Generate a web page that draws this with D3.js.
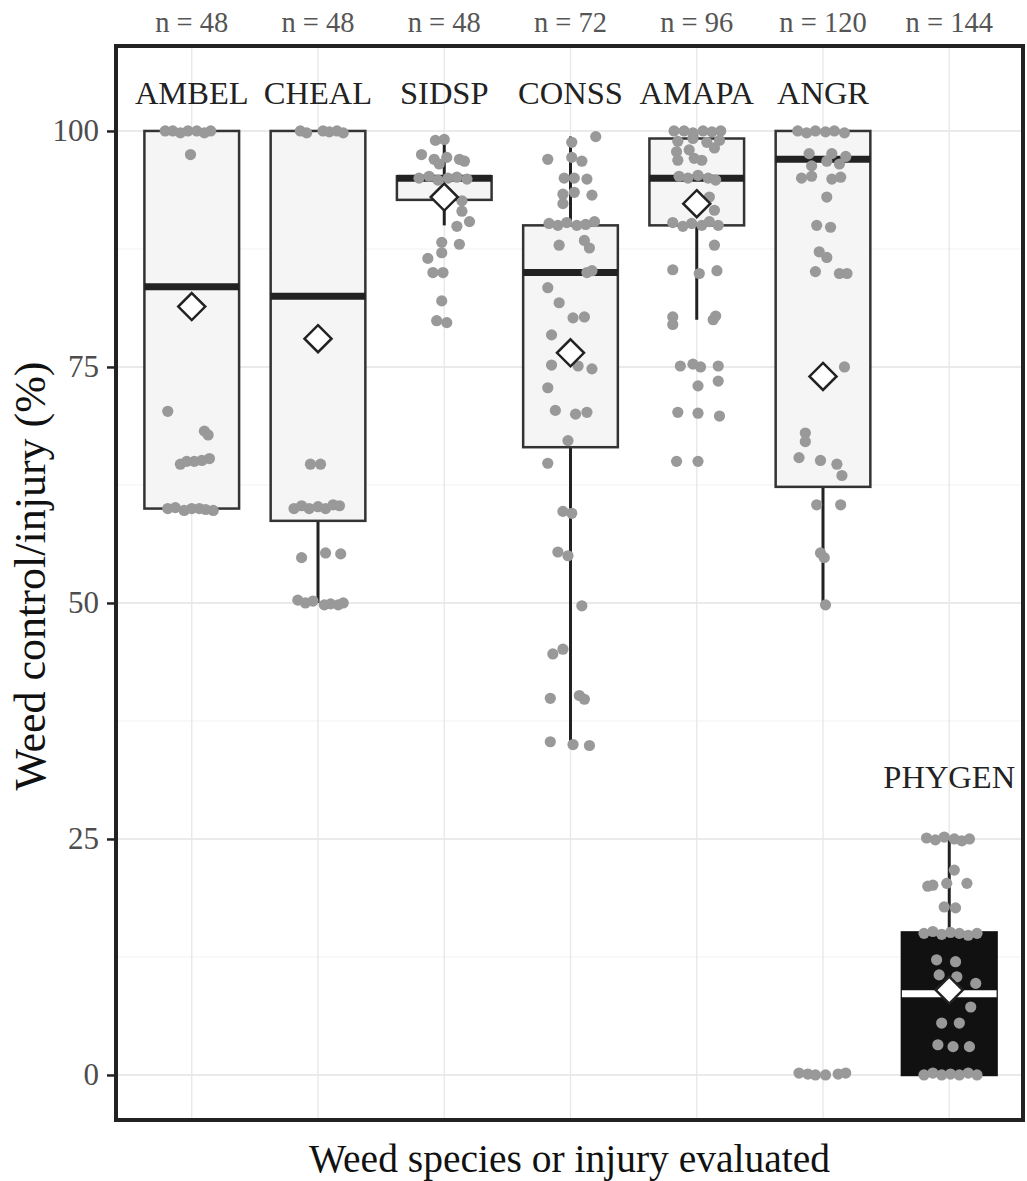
<!DOCTYPE html>
<html>
<head>
<meta charset="utf-8">
<script src="https://cdn.jsdelivr.net/npm/d3@7"></script>
<style>
  body { margin: 0; background: #fff; }
  text { font-family: 'Liberation Serif', 'Times New Roman', serif; }
</style>
</head>
<body>
<svg id="canvas" width="1027" height="1181"></svg>
<script>
// weed species / injury categories and summary stats
let categories = ['AMBEL', 'CHEAL', 'SIDSP', 'CONSS', 'AMAPA', 'ANGR', 'PHYGEN'];
let sampleSizes = [48, 48, 48, 72, 96, 120, 144];
let q1Values = [60, 58.7, 92.7, 66.5, 90, 62.3, 0];
let medianValues = [83.5, 82.5, 95, 85, 95, 97, 8.6];
let q3Values = [100, 100, 95.2, 90, 99.2, 100, 15.1];
let whiskerLow = [60, 50, 90, 35.2, 80, 49.8, 0];
let whiskerHigh = [100, 100, 99, 99.4, 100, 100, 25];
let meanValues = [81.4, 78.0, 93.0, 76.5, 92.3, 74.0, 9.0];
let labelValues = [104.1, 104.1, 104.1, 104.1, 104.1, 104.1, 31.6];
let yTicks = [0, 25, 50, 75, 100];
let yMinorTicks = [12.5, 37.5, 62.5, 87.5];

// jittered observations: [offset in category units, value]
let pointsAMBEL = [
	[-0.21, 100], [-0.15, 100], [-0.09, 99.8], [-0.03, 100], [0.04, 100], [0.1, 99.8], [0.15, 100],
	[-0.01, 97.5], [-0.19, 70.3], [0.1, 68.2], [0.13, 67.8],
	[-0.09, 64.7], [-0.04, 65], [0.02, 65], [0.08, 65.1], [0.14, 65.3],
	[-0.19, 60], [-0.13, 60.1], [-0.06, 59.8], [0, 60], [0.06, 60], [0.11, 59.9], [0.17, 59.8]
];
let pointsCHEAL = [
	[-0.14, 100], [-0.09, 99.8], [0.04, 100], [0.09, 99.9], [0.15, 100], [0.2, 99.8],
	[-0.06, 64.7], [0.02, 64.7],
	[-0.19, 60], [-0.13, 60.3], [-0.07, 60], [0, 60.2], [0.06, 60], [0.12, 60.4], [0.17, 60.3],
	[-0.13, 54.8], [0.06, 55.3], [0.18, 55.2],
	[-0.16, 50.3], [-0.1, 50], [-0.04, 50.2], [0.05, 49.8], [0.1, 49.9], [0.16, 49.8], [0.2, 50]
];
let pointsSIDSP = [
	[-0.07, 99], [0, 99.1], [-0.18, 97.5], [-0.08, 97], [0.02, 97.2], [0.12, 97], [0.16, 96.8],
	[-0.04, 96.5], [-0.2, 95], [-0.12, 95.2], [-0.05, 94.8], [0.03, 95], [0.1, 95.1], [0.18, 94.9],
	[0.14, 92.6], [0.14, 91.5], [0.2, 90.4], [0.1, 89.9], [-0.02, 88.2], [0.12, 88],
	[-0.02, 87.1], [-0.13, 86.5], [-0.09, 85], [-0.01, 85], [-0.02, 82], [-0.06, 79.9], [0.02, 79.7]
];
let pointsCONSS = [
	[0.2, 99.4], [0.01, 98.8], [-0.18, 97], [0.01, 97.2], [0.09, 96.8],
	[-0.05, 95], [0.03, 95], [0.13, 94.9], [-0.06, 93.3], [0.03, 93.5], [0.17, 93.2], [-0.06, 92.3],
	[-0.17, 90.2], [-0.1, 90], [-0.03, 90.3], [0.05, 90], [0.12, 90.1], [0.19, 90.4],
	[-0.09, 87.9], [0.11, 88.4], [0.15, 87.6], [0.13, 85], [0.17, 85.2], [-0.18, 83.4], [-0.09, 81.8],
	[0.02, 80.2], [0.11, 80.3], [-0.15, 78.4], [-0.15, 75.2], [0.06, 75.1], [0.17, 74.8],
	[-0.18, 72.8], [-0.12, 70.4], [0.04, 70], [0.13, 70.2], [-0.02, 67.2], [-0.18, 64.8],
	[-0.06, 59.7], [0.01, 59.5], [-0.1, 55.4], [-0.02, 55], [0.09, 49.7], [-0.14, 44.6], [-0.06, 45.1],
	[-0.16, 39.9], [0.07, 40.2], [0.11, 39.8], [-0.16, 35.3], [0.02, 35], [0.15, 34.9]
];
let pointsAMAPA = [
	[-0.18, 100], [-0.1, 100], [-0.03, 99.8], [0.05, 100], [0.12, 99.9], [0.19, 100],
	[-0.15, 98.9], [-0.03, 99.2], [0.08, 98.8], [0.18, 99], [-0.16, 97.8], [-0.06, 98], [0.14, 98.2],
	[-0.15, 96.9], [-0.02, 97.1], [0.04, 96.9],
	[-0.14, 95.2], [-0.07, 95], [0.01, 95.3], [0.09, 95], [0.15, 94.8], [0.1, 93], [0.14, 91.6],
	[-0.19, 90.3], [-0.11, 89.9], [-0.04, 90.2], [0.04, 90], [0.1, 90.4], [0.17, 90],
	[0.14, 87.9], [-0.19, 85.3], [0.02, 84.9], [0.16, 85.2],
	[-0.19, 80.3], [-0.19, 79.5], [0.13, 80], [0.15, 80.4],
	[-0.13, 75.1], [-0.03, 75.3], [0.03, 75], [0.17, 75.1], [0.01, 73], [0.17, 73.5],
	[-0.15, 70.2], [0.01, 70.1], [0.18, 69.8], [-0.16, 65], [0.01, 65]
];
let pointsANGR = [
	[-0.2, 100], [-0.13, 99.8], [-0.06, 100], [0.02, 99.9], [0.09, 100], [0.17, 99.8],
	[-0.11, 97.6], [0.07, 97.6], [0.18, 97.3], [0.13, 96.5], [-0.09, 96.3], [0.03, 96.8],
	[-0.17, 95], [-0.09, 95.2], [0.07, 94.9], [0.14, 95.1], [0.03, 93],
	[-0.05, 90], [0.06, 89.8], [-0.03, 87.2], [0.03, 86.6], [-0.06, 85.1], [0.13, 84.9], [0.19, 84.9],
	[0.17, 75], [-0.14, 68], [-0.14, 67.1], [-0.19, 65.4], [-0.02, 65.1], [0.11, 64.7], [0.15, 63.5],
	[-0.05, 60.4], [0.14, 60.4], [-0.02, 55.3], [0.01, 54.8], [0.02, 49.8],
	[-0.19, 0.2], [-0.12, 0.1], [-0.06, 0], [0.02, 0], [0.12, 0.1], [0.18, 0.2]
];
let pointsPHYGEN = [
	[-0.18, 25.1], [-0.11, 24.9], [-0.04, 25.2], [0.04, 25], [0.1, 24.8], [0.16, 25],
	[0.04, 21.7], [-0.17, 20], [-0.13, 20.1], [-0.02, 20.3], [0.14, 20.3], [-0.04, 17.8], [0.05, 17.7],
	[-0.2, 15], [-0.13, 15.2], [-0.06, 14.9], [0.01, 15.1], [0.08, 15], [0.15, 14.8], [0.22, 15],
	[-0.1, 12.2], [0.05, 12], [-0.08, 10.6], [0.06, 10.4], [0.21, 9.7], [0.17, 7.2],
	[-0.06, 5.5], [0.08, 5.5], [-0.09, 3.2], [0.03, 3], [0.16, 3],
	[-0.2, 0], [-0.13, 0.2], [-0.06, 0], [0.01, 0.1], [0.08, 0], [0.15, 0.2], [0.22, 0]
];
let pointSets = [pointsAMBEL, pointsCHEAL, pointsSIDSP, pointsCONSS, pointsAMAPA, pointsANGR, pointsPHYGEN];

let canvas = d3.select('#canvas');

let panel = { left: 116, right: 1023, top: 46, bottom: 1120 };

// category centres are a little wider apart than the plain 0.6 padding gives
let xScale = d3.scalePoint().domain(categories).range([panel.left, panel.right + 2]).padding(0.6);
let yScale = d3.scaleLinear().domain([-4.77, 109.0]).range([panel.bottom, panel.top]);
let step = xScale.step();
let boxWidth = step * 0.75;

let stats = categories.map((cat, i) => {
	return {
		cat: cat, n: sampleSizes[i], q1: q1Values[i], med: medianValues[i], q3: q3Values[i],
		lo: whiskerLow[i], hi: whiskerHigh[i], mean: meanValues[i], labelY: labelValues[i],
		dark: cat === 'PHYGEN'
	};
});

// grid
let grid = canvas.append('g');
grid.selectAll('.minor').data(yMinorTicks).enter().append('line')
	.attr('x1', panel.left).attr('x2', panel.right)
	.attr('y1', (d) => yScale(d)).attr('y2', (d) => yScale(d))
	.attr('stroke', '#f2f2f2').attr('stroke-width', 1);
grid.selectAll('.major').data(yTicks).enter().append('line')
	.attr('x1', panel.left).attr('x2', panel.right)
	.attr('y1', (d) => yScale(d)).attr('y2', (d) => yScale(d))
	.attr('stroke', '#e3e3e3').attr('stroke-width', 1.4);
grid.selectAll('.vmajor').data(categories).enter().append('line')
	.attr('x1', (d) => xScale(d)).attr('x2', (d) => xScale(d))
	.attr('y1', panel.top).attr('y2', panel.bottom)
	.attr('stroke', '#e8e8e8').attr('stroke-width', 1.4);

// boxes
let box = canvas.selectAll('.box').data(stats).enter().append('g');
box.append('line')
	.attr('x1', (d) => xScale(d.cat)).attr('x2', (d) => xScale(d.cat))
	.attr('y1', (d) => yScale(d.lo)).attr('y2', (d) => yScale(d.hi))
	.attr('stroke', '#222').attr('stroke-width', 3);
box.append('rect')
	.attr('x', (d) => xScale(d.cat) - boxWidth / 2)
	.attr('width', boxWidth)
	.attr('y', (d) => yScale(d.q3))
	.attr('height', (d) => yScale(d.q1) - yScale(d.q3))
	.attr('fill', (d) => (d.dark ? '#111' : '#f5f5f5'))
	.attr('stroke', (d) => (d.dark ? '#111' : '#333'))
	.attr('stroke-width', 2.5);
box.append('line')
	.attr('x1', (d) => xScale(d.cat) - boxWidth / 2).attr('x2', (d) => xScale(d.cat) + boxWidth / 2)
	.attr('y1', (d) => yScale(d.med)).attr('y2', (d) => yScale(d.med))
	.attr('stroke', (d) => (d.dark ? '#fff' : '#222')).attr('stroke-width', 7);

// jittered points
pointSets.forEach((pts, i) => {
	canvas.append('g').selectAll('circle').data(pts).enter().append('circle')
		.attr('cx', (p) => xScale(categories[i]) + p[0] * step)
		.attr('cy', (p) => yScale(p[1]))
		.attr('r', 5.6)
		.attr('fill', '#999');
});

// mean diamonds
let dsize = 13.5;
canvas.append('g').selectAll('path').data(stats).enter().append('path')
	.attr('d', (d) => {
		let cx = xScale(d.cat), cy = yScale(d.mean);
		return 'M' + cx + ',' + (cy - dsize) + 'L' + (cx + dsize) + ',' + cy +
			'L' + cx + ',' + (cy + dsize) + 'L' + (cx - dsize) + ',' + cy + 'Z';
	})
	.attr('fill', '#fff')
	.attr('stroke', '#222')
	.attr('stroke-width', 2.5);

// category labels inside the panel
canvas.append('g').selectAll('text').data(stats).enter().append('text')
	.attr('x', (d) => xScale(d.cat))
	.attr('y', (d) => yScale(d.labelY))
	.attr('dy', '0.35em')
	.attr('text-anchor', 'middle')
	.attr('font-size', 32.5)
	.attr('fill', '#222')
	.text((d) => d.cat);

// sample sizes above the panel
canvas.append('g').selectAll('text').data(stats).enter().append('text')
	.attr('x', (d) => xScale(d.cat))
	.attr('y', 32)
	.attr('text-anchor', 'middle')
	.attr('font-size', 28.5)
	.attr('fill', '#555')
	.text((d) => 'n = ' + d.n);

// panel border
canvas.append('rect')
	.attr('x', panel.left).attr('y', panel.top)
	.attr('width', panel.right - panel.left).attr('height', panel.bottom - panel.top)
	.attr('fill', 'none').attr('stroke', '#222').attr('stroke-width', 4);

// y axis
let yAxis = d3.axisLeft(yScale).tickValues(yTicks).tickSize(8).tickPadding(8);
let yAxisG = canvas.append('g')
	.attr('transform', 'translate(' + (panel.left - 1) + ',0)')
	.call(yAxis);
yAxisG.select('.domain').remove();
yAxisG.selectAll('.tick line').attr('stroke', '#222').attr('stroke-width', 2.5);
yAxisG.selectAll('.tick text')
	.attr('font-family', "'Liberation Serif', 'Times New Roman', serif")
	.attr('font-size', 31)
	.attr('fill', '#4d4d4d');

// axis titles
canvas.append('text')
	.attr('x', (panel.left + panel.right) / 2)
	.attr('y', 1172)
	.attr('text-anchor', 'middle')
	.attr('font-size', 39.5)
	.attr('fill', '#111')
	.text('Weed species or injury evaluated');

canvas.append('text')
	.attr('transform', 'translate(45,' + 576 + ') rotate(-90)')
	.attr('text-anchor', 'middle')
	.attr('font-size', 44)
	.attr('fill', '#111')
	.text('Weed control/injury (%)');
</script>
</body>
</html>
